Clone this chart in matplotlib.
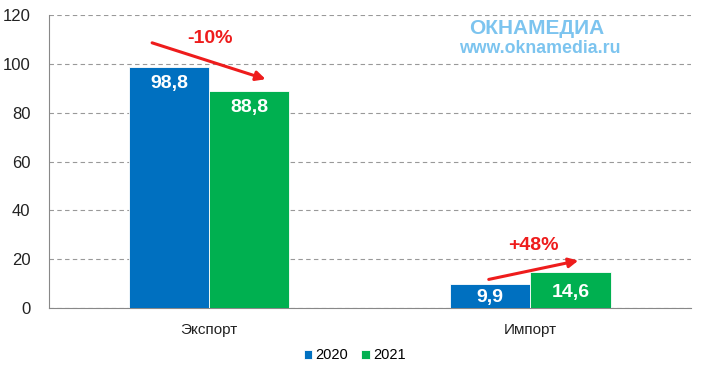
import matplotlib.pyplot as plt
import numpy as np

plt.rcParams['font.family'] = ['Liberation Sans', 'DejaVu Sans']

# data
categories = ['Экспорт', 'Импорт']
years = ['2020', '2021']
vals_2020 = [98.8, 9.9]
vals_2021 = [88.8, 14.6]
changes = ['-10%', '+48%']

blue = '#0070c0'
green = '#00b050'

fig = plt.figure(figsize=(7.05, 3.78), dpi=100)
ax = fig.add_axes([0.069, 0.185, 0.911, 0.775])

x = np.arange(len(categories))
w = 0.25
b1 = ax.bar(x - w / 2, vals_2020, w, color=blue, label=years[0], edgecolor='white', linewidth=0.6, zorder=3)
b2 = ax.bar(x + w / 2, vals_2021, w, color=green, label=years[1], edgecolor='white', linewidth=0.6, zorder=3)

def fmt(v):
    return ('%.1f' % v).replace('.', ',')

for bars, vals in ((b1, vals_2020), (b2, vals_2021)):
    for r, v in zip(bars, vals):
        yy = v - 6.8 if v > 30 else v / 2 - 0.8
        ax.text(r.get_x() + r.get_width() / 2, yy, fmt(v), ha='center', va='center',
                color='white', fontsize=14, fontweight='bold', zorder=4)

ax.set_xlim(-0.5, 1.5)
ax.set_ylim(0, 120)
ax.set_yticks(range(0, 121, 20))
ax.set_xticks(x)
ax.set_xticklabels(categories, fontsize=11)
ax.tick_params(axis='y', labelsize=12, length=0, pad=13, labelcolor='#222222')
ax.tick_params(axis='x', length=0, pad=11, labelcolor='#222222')
ax.yaxis.grid(True, linestyle=(0, (4, 3)), color='#999999', linewidth=0.8, zorder=0)
ax.set_axisbelow(True)
for s in ('top', 'right'):
    ax.spines[s].set_visible(False)
ax.spines['left'].set_color('#888888')
ax.spines['bottom'].set_color('#888888')

# change arrows
arrows = [((-0.186, 109), (0.184, 93.4)), ((0.862, 11.5), (1.158, 19.7))]
text_pos = [(0.004, 110.5), (1.009, 25.5)]
for (s, e), tp, lab in zip(arrows, text_pos, changes):
    ax.annotate('', xy=e, xytext=s,
                arrowprops=dict(arrowstyle='-|>', color='#ee1c1c', lw=2.2, mutation_scale=14),
                zorder=5)
    ax.text(tp[0], tp[1], lab, color='#ee1c1c', fontsize=14, fontweight='bold',
            ha='center', va='center', zorder=5)

# logo
fig.text(0.762, 0.924, 'ОКНАМЕДИА', color='#7cc4ef', fontsize=15, fontweight='bold', ha='center', va='center')
fig.text(0.766, 0.872, 'www.oknamedia.ru', color='#7cc4ef', fontsize=12.8, fontweight='bold', ha='center', va='center')

fig.legend(loc='center', bbox_to_anchor=(0.503, 0.06), ncol=2, frameon=False, fontsize=10.5,
           handlelength=0.6, handleheight=0.6, handletextpad=0.2, columnspacing=0.9)

fig.savefig('out.png', dpi=100)
